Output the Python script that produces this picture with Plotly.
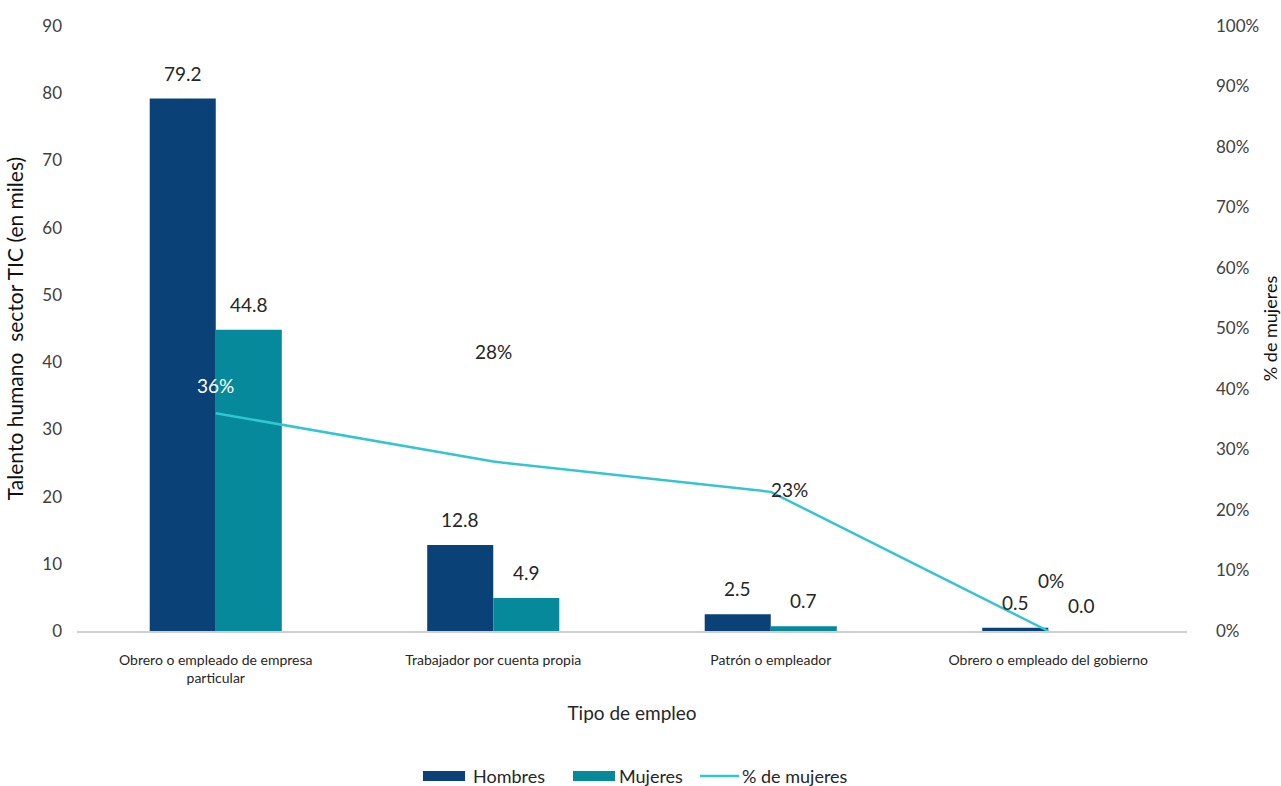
import plotly.graph_objects as go

categorias = [
    "Obrero o empleado de empresa<br>particular",
    "Trabajador por cuenta propia",
    "Patrón o empleador",
    "Obrero o empleado del gobierno",
]
hombres = [79.2, 12.8, 2.5, 0.5]
mujeres = [44.8, 4.9, 0.7, 0.0]
pct_mujeres = [0.36, 0.28, 0.23, 0.0]

# label offsets for the % line (pixels)
pct_shift_x = [0, 0, 19, 3]
pct_shift_y = [28, 110, 2, 51]
pct_colors = ["white", "#262626", "#262626", "#262626"]

FONT = "Lato"
C_H = "#0a4277"
C_M = "#06899a"
C_L = "#33c5d0"
TXT = "#262626"

# plot area in pixels
L, R, T, B = 77, 94, 26, 155
W, H = 1281, 786
PW, PH = W - L - R, H - T - B
HALF_BAR = 33  # half of a bar's width in pixels

fig = go.Figure()
fig.add_trace(go.Bar(name="Hombres", x=categorias, y=hombres, marker_color=C_H,
                     marker_line_width=0, showlegend=False))
fig.add_trace(go.Bar(name="Mujeres", x=categorias, y=mujeres, marker_color=C_M,
                     marker_line_width=0, showlegend=False))
fig.add_trace(go.Scatter(name="% de mujeres", x=categorias, y=pct_mujeres, yaxis="y2",
                         mode="lines", line=dict(color=C_L, width=2.5),
                         cliponaxis=False, showlegend=False))

# bar value labels
for serie, dx in ((hombres, -HALF_BAR), (mujeres, HALF_BAR)):
    for c, v in zip(categorias, serie):
        fig.add_annotation(x=c, y=v, xref="x", yref="y", text=f"{v:.1f}",
                           showarrow=False, xshift=dx, yanchor="bottom", yshift=12,
                           font=dict(size=19, color=TXT, family=FONT))

# % line labels
for c, p, dx, dy, col in zip(categorias, pct_mujeres, pct_shift_x, pct_shift_y, pct_colors):
    fig.add_annotation(x=c, y=p, xref="x", yref="y2", text=f"{p:.0%}", showarrow=False,
                       xshift=dx, yshift=dy, font=dict(size=19, color=col, family=FONT))

# legend drawn below the axis title
def px_x(px):
    return (px - L) / PW

def px_y(py):
    return (H - B - py) / PH

leg_y = 776
for x0, x1, col in ((423, 465, C_H), (573, 615, C_M)):
    fig.add_shape(type="rect", xref="paper", yref="paper",
                  x0=px_x(x0), x1=px_x(x1), y0=px_y(leg_y + 5), y1=px_y(leg_y - 5),
                  fillcolor=col, line_width=0)
fig.add_shape(type="line", xref="paper", yref="paper",
              x0=px_x(700), x1=px_x(739), y0=px_y(leg_y), y1=px_y(leg_y),
              line=dict(color=C_L, width=2.5))
for x0, label in ((471, "Hombres"), (617, "Mujeres"), (740, "% de mujeres")):
    fig.add_annotation(xref="paper", yref="paper", x=px_x(x0), y=px_y(leg_y),
                       xanchor="left", yanchor="middle", text=label, showarrow=False,
                       font=dict(size=18, color=TXT, family=FONT))

fig.update_layout(
    width=W, height=H,
    margin=dict(l=L, r=R, t=T, b=B),
    paper_bgcolor="white", plot_bgcolor="white",
    barmode="group", bargap=0.524, bargroupgap=0,
    font=dict(family=FONT, size=15, color=TXT),
    showlegend=False,
    xaxis=dict(
        title=dict(text="Tipo de empleo", font=dict(size=19, color=TXT, family=FONT), standoff=22),
        showline=True, linecolor="#cfcfcf", linewidth=1.5, ticks="",
        tickfont=dict(size=14, color=TXT, family=FONT), ticklabelstandoff=15,
        automargin=False,
    ),
    yaxis=dict(
        title=dict(text="Talento humano  sector TIC (en miles)",
                   font=dict(size=21, color="#111111", family=FONT), standoff=12),
        range=[0, 90], dtick=10, showgrid=False, zeroline=False,
        tickfont=dict(size=17, color="#404040"), ticklabelstandoff=14,
        automargin=False,
    ),
    yaxis2=dict(
        title=dict(text="% de mujeres", font=dict(size=18, color="#111111", family=FONT), standoff=12),
        overlaying="y", side="right", range=[0, 1], dtick=0.1, tickformat=".0%",
        showgrid=False, zeroline=False,
        tickfont=dict(size=17, color="#404040"), ticklabelstandoff=28,
        automargin=False,
    ),
)

fig.write_html("out.html")
